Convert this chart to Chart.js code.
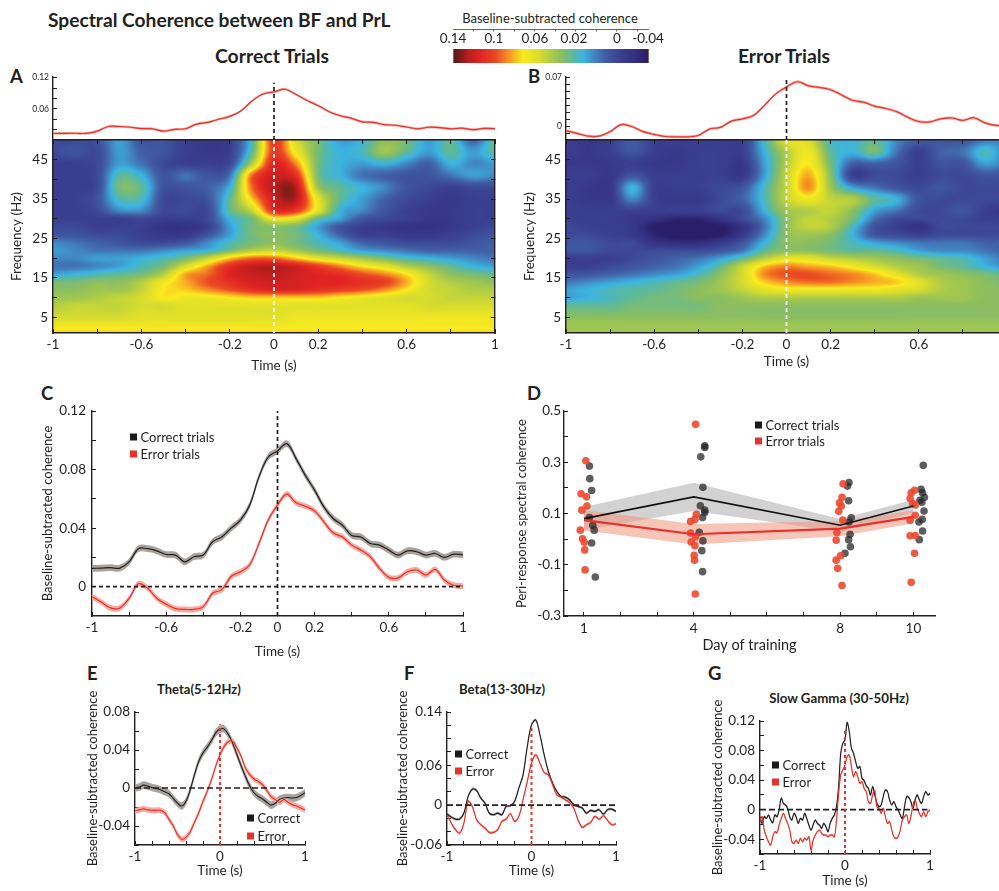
<!DOCTYPE html>
<html>
<head>
<meta charset="utf-8">
<script src="https://cdn.jsdelivr.net/npm/chart.js@4"></script>
<style>
  html, body { margin: 0; padding: 0; background: #fff; overflow: hidden; width: 999px; height: 891px; }
  body { position: relative; font-family: Lato, sans-serif; color: #231f20; }
  canvas { display: block; position: absolute; }
  .txt { position: absolute; white-space: nowrap; transform: translateY(-50%); }
  .mid { transform: translate(-50%, -50%); }
  .b { font-weight: 700; }
  .sq { position: absolute; width: 7px; height: 7px; transform: translateY(-50%); }
</style>
</head>
<body>
<script>
// time base for panels A, B, C, E, F
const timeBase = [-1,-0.95,-0.9,-0.85,-0.8,-0.75,-0.7,-0.65,-0.6,-0.55,-0.5,-0.45,-0.4,-0.35,-0.3,-0.25,-0.2,-0.15,-0.1,-0.05,0,
  0.05,0.1,0.15,0.2,0.25,0.3,0.35,0.4,0.45,0.5,0.55,0.6,0.65,0.7,0.75,0.8,0.85,0.9,0.95,1];

// panel C (and the traces over A and B)
const correctC = [.0125,.0127,.013,.0127,.017,.026,.026,.0245,.022,.0216,.017,.0205,.0216,.0307,.034,.04,.0455,.0557,.075,.0886,.0927,
  .0977,.0875,.076,.066,.0545,.0466,.042,.035,.034,.0295,.0284,.025,.0216,.0245,.0239,.0216,.0227,.02,.0222,.0218];
const errorC = [-.0068,-.0105,-.0145,-.0145,-.008,.002,-.001,-.008,-.012,-.015,-.0155,-.0155,-.0136,-.0045,-.002,.007,.0102,.015,.0295,.0455,.0557,
  .0632,.0573,.055,.0518,.0443,.0368,.034,.0284,.025,.0205,.0125,.0064,.006,.0102,.0114,.008,.0118,.0045,.001,.0005];

// panel E
const correctE = [0,.001,.003,.002,.0005,-.0005,-.0018,-.004,-.006,-.011,-.016,-.019,-.014,-.002,.014,.028,.037,.043,.05,.058,.062,
  .062,.056,.047,.035,.023,.012,.002,-.005,-.009,-.0115,-.015,-.018,-.016,-.012,-.0105,-.01,-.0105,-.01,-.008,-.005];
const errorE = [-.024,-.023,-.022,-.023,-.0235,-.0235,-.0235,-.026,-.033,-.04,-.049,-.054,-.052,-.046,-.036,-.026,-.014,-.0035,.009,.023,.035,
  .044,.049,.049,.042,.033,.021,.014,.0095,.007,.0035,-.0025,-.009,-.012,-.015,-.012,-.015,-.0175,-.019,-.021,-.023];

// panel F
const correctF = [-.013,-.018,-.021,-.021,-.012,.013,.024,.022,.0105,.003,-.012,-.0145,-.012,-.0145,-.002,-.001,.0055,.0255,.0455,.088,.1205,
  .128,.1055,.0755,.0505,.033,.0205,.013,.012,.008,.0005,-.002,-.0045,-.012,-.008,-.0095,-.007,-.0135,-.007,-.006,-.0095];
const errorF = [-.0145,-.027,-.037,-.042,-.027,.0055,-.002,-.022,-.0295,-.0345,-.041,-.041,-.037,-.0245,-.021,-.013,-.0245,-.017,.008,.0355,.063,
  .0755,.063,.049,.0455,.0305,.0155,.012,.008,.004,-.0045,-.022,-.0335,-.0295,-.026,-.017,-.021,-.016,-.023,-.0295,-.028];

// panel G is noisier so it has a finer time base
const timeG = [-1,-.975,-.95,-.925,-.9,-.875,-.85,-.825,-.8,-.775,-.75,-.725,-.7,-.675,-.65,-.625,-.6,-.575,-.55,-.525,-.5,-.475,-.45,-.425,-.4,-.375,-.35,-.325,-.3,-.275,-.25,-.225,-.2,-.175,-.15,-.125,-.1,-.075,-.05,-.025,0,
  .025,.05,.075,.1,.125,.15,.175,.2,.225,.25,.275,.3,.325,.35,.375,.4,.425,.45,.475,.5,.525,.55,.575,.6,.625,.65,.675,.7,.725,.75,.775,.8,.825,.85,.875,.9,.925,.95,.975,1];
const correctG = [-.0095,-.0185,-.0095,-.0118,-.0072,-.014,-.0176,-.0072,-.0095,-.0005,.0154,.0086,.0063,.0018,-.0095,-.014,-.005,-.0095,-.0185,-.0118,-.014,-.005,-.0118,-.0208,-.0276,-.0208,-.014,-.0185,-.0208,-.0253,-.0185,-.023,-.0298,-.0185,-.0118,-.0072,.0041,.0312,.0764,.09,.0945,
  .118,.1058,.0832,.0764,.0651,.056,.0583,.0425,.0393,.0321,.0289,.0199,.0312,.0199,.0086,.0041,.0063,.0176,.0267,.0244,.0131,.0063,.0108,.0041,-.0005,-.0072,-.0118,.0041,.0176,.0167,.0108,.0018,.0131,.0199,.0131,.0086,.0176,.0244,.0199,.0221];
const errorG = [-.014,-.0095,-.0276,-.0366,-.0434,-.0479,-.0366,-.0298,-.0312,-.0208,-.0118,-.005,-.0118,-.0185,-.0276,-.0434,-.0457,-.0411,-.0457,-.0389,-.0434,-.0389,-.0411,-.0366,-.0547,-.0411,-.0344,-.0298,-.0276,-.0321,-.0344,-.0344,-.0366,-.0344,-.0344,-.0366,-.014,.0221,.047,.0538,.0606,
  .0719,.0741,.0583,.0447,.0515,.0447,.0357,.038,.0289,.0244,.0108,.0086,.0199,.0258,.0041,.0018,-.005,.0018,-.0095,-.0185,-.0163,-.0276,-.0366,-.0389,-.0366,-.0276,-.014,-.0095,-.0072,-.0185,-.0095,.0063,.0131,.0018,-.005,-.0095,-.0027,-.0095,-.0027,-.0005];

// panel D
const days = [1,4,8,10];
const correctMean = [.08,.165,.054,.129];
const correctSem = [.045,.055,.025,.025];
const errorMean = [.074,.019,.041,.087];
const errorSem = [.04,.04,.03,.025];
const correctDotX = [1.15,1.16,1.21,1.15,1.24,1.28,1.21,1.31, 4.3,4.3,4.19,4.25,4.18,4.3,4.3,4.24,4.15,4.25,4.22,4.24, 8.24,8.2,8.23,8.3,8.24,8.27,8.23,8.28,8.13, 10.27,10.21,10.25,10.3,10.18,10.23,10.29,10.24,10.15,10.25,10.16];
const correctDotY = [.285,.236,.19,.084,.054,.035,-.015,-.148, .364,.358,.321,.202,.13,.113,.104,.084,.027,-.007,-.045,-.127, .221,.207,.15,.083,.067,.019,-.002,-.03,-.055, .288,.194,.181,.163,.152,.144,.11,.077,.067,.032,-.002];
const errorDotX = [1.05,.92,1.07,1.08,.94,.9,.96,1.01,1.02,1.03, 4.05,4.07,4.03,3.91,3.91,4.05,3.93,4.03,4.01,4.02,4.04, 8.08,8.05,7.98,8.03,7.96,8.07,7.91,7.89,8.01,7.89,7.93,8.05, 10.03,9.94,9.91,9.98,10.05,10.05,9.91,9.91,10.05,10.03,9.94];
const errorDotY = [.306,.177,.165,.129,.113,.035,.001,-.012,-.042,-.12, .448,.097,.077,.069,.024,.009,-.011,-.026,-.063,-.082,-.214, .216,.163,.142,.129,.109,.074,.026,-.004,-.065,-.082,-.114,-.181, .191,.181,.159,.139,.133,.093,.074,.013,.014,-.055,-.168];

// spectrograms, values in units of 0.01 coherence, top row is 50 Hz
const heatTimes = [-1,-.9,-.8,-.7,-.6,-.5,-.4,-.3,-.2,-.1,0,.1,.2,.3,.4,.5,.6,.7,.8,.9,1];
const heatFreqs = [50,47,44,41,38,35,32,30,28,26,24,22,20,18,16,14,12,10,8,5,3,1];
const heatCorrect = [
  [-1,-1,-.5,1.5,-.5,-.5,-1.5,-2,-1.5,2.5,10.5,6,3.5,1.5,2,4,3.5,1.5,3,0,3.5],
  [-1,-.5,-1,1.5,0,-.5,-1.5,-2,-1.5,3,10.5,7,3.5,2,2.5,4.5,3,1.5,3,1.5,3],
  [-1.5,-1.5,-1,1.5,.5,-1,-1.5,-1.5,-1,5,11.5,9,3.5,2,1.5,2,1,0,2,1,1.5],
  [-1.5,-1.5,-1,2.8,2,-.5,.5,-.5,.5,9.5,12,11,3.5,2,.5,0,-.5,-.5,.5,1.5,1],
  [-1.5,-1.5,-1,3.5,3,-.5,-.5,0,2,9.5,12.5,12.5,4.5,3,2,1,-.5,-1,-1.5,-1,-1],
  [-1.5,-1.5,-.5,2.5,2.5,-1,-1,-.5,3,8,12,12.5,6.5,3,1.5,0,-1,-1.5,-2,-1.5,-1.5],
  [-1.5,-1.5,-1,1,1,-1,-1,-1,3,5.5,11,10.5,6.5,2,1,-.5,-1.5,-2,-2,-1.5,-1.5],
  [-1.5,-1.5,-1.5,-1.5,-1,-1.5,-1.5,-1,2,3.5,7,6.5,3,1.5,-.5,-1,-1.5,-2,-2,-1.5,-1.5],
  [-1,-1,-1.5,-1.5,-1.5,-2.5,-2.5,-1.5,1.5,3.5,4,3.5,1.5,-.5,-1.5,-2,-2.5,-2.5,-2,-1.5,-1],
  [-.5,-.5,-1,-1,-1.5,-2,-2,-.5,1.5,3.5,4,3.5,2,0,-1.5,-1.5,-2,-2,-1.5,-1,-.5],
  [1,.5,0,-.5,-1,-1,-.5,1,2.5,3.5,4,3.5,2.5,1.5,0,-.5,-1,-1,-1,-.5,0],
  [1.5,1,.5,.5,.5,1,1.5,2,3.5,5,5.5,4.5,3.5,2.5,1.5,1,.5,0,0,0,0],
  [1,1,1.5,1.5,2,2.5,3.5,5.5,8,9.5,9.5,8,6.5,5.5,4.5,3.5,2.5,2,1.5,1,.5],
  [.5,.5,1,1.5,2.5,3.5,6,8.5,11,12.2,12.5,11.8,10.5,9,7.5,6.5,5,4,3,2,1.5],
  [1.5,2,2.5,3,3.5,5,8.5,9.5,11.5,12.2,12.5,12,11.5,11,10,9,7.5,5.5,4,3.5,3],
  [3.5,3.5,4,4,5,7,8.5,10,11,11.8,12,11.8,11.5,11.5,11,10.5,8.5,6,5,4.5,4],
  [4,4,4.5,4.5,5.5,7.5,8,9,10,11,11.5,11.5,11,10.5,10,9,7.5,6,5.5,5,5],
  [4.5,4.5,5,5.5,6,7.5,7,7,7.5,8,8,8,8,7.5,7,6.5,6,6,5.5,5.5,5.5],
  [5,5.5,5.5,5.5,6,6,6.5,6.5,6.5,6.5,6.5,6.5,6.5,6.5,6.5,6.5,6.5,6,6,6,6],
  [6,6,6,6,6.5,6.5,6.5,6.5,6.5,6.5,6.5,7,7,7,7,7,7,7,7,7,7],
  [7,7,7,7,7,7,7,7,7,7,7,7.2,7.2,7.2,7.2,7.2,7.2,7.2,7.2,7.2,7.2],
  [8,8,8,8,8,8,8,8,8,8,8,8,8,8,8,8,8,8,8,8,8]
];
const heatError = [
  [-1.5,-2,-1.5,0,-1.5,-1.5,-1.5,-1.5,-1.5,2.5,6.5,6,2.5,2,3,1,0,-.5,-.5,.5,1],
  [-1.5,-2,-1.5,-.5,-1.5,-2,-1.5,-1.5,-1.5,2,5,7,3,2,3.5,.5,-1.5,0,.5,2.5,.5],
  [-2,-2,-2,-1.5,-2,-2,-1.5,-1.5,-2,1.5,5,7.5,3.5,0,0,-.5,-1.5,-.5,-.5,1.5,.5],
  [-1.5,-1.5,-2,-.5,-1.5,-1.5,-1.5,-1.5,-2,1.5,5.5,8.5,4,-1.5,-1,-1,-1.5,-1,-1,-.5,-.5],
  [-1.5,-2,-2,2,-1.5,-1.5,-1.5,-1,-.5,2.5,5.5,9,4.5,1.5,.5,-.5,-1,-.5,-1,-1,-1],
  [-1.5,-2,-2,1,-1.5,-2,-2,-1,0,2.5,5.5,7,5.5,5,3,2,-.5,-1,-1,-1,-1],
  [-1.5,-1.5,-1.5,-1.5,-1.5,-1.5,-1.5,-1,-1,2,4.5,5,5.5,4,1.5,.5,-1,-1,-.5,-1.5,-2],
  [-1.5,-1.5,-1.5,-2,-2.5,-3.5,-3.5,-2.5,-1,1,4,5.5,5,3.5,.5,-1,-1,-1,-1,-1.5,-1.5],
  [-1,-1.5,-1.5,-2,-4,-4.5,-4.5,-4,-2.5,.5,4,5.5,5,2.5,-.5,-1.5,-2.5,-1,-1,-1,-1],
  [-1,-1,-1.5,-2,-3.5,-4.5,-4.5,-4,-2,1,4,4.5,4,2,-.5,-1,-1.5,-1,-1,-1,-1],
  [-.5,-.5,-1,-1,-2.5,-3,-3,-2,-.5,2,4,4,3.5,2.5,1.5,1,.5,.5,.5,0,0],
  [-.5,-.5,-1,-1,-1,-1,-1,-.5,.5,3,4,4,3.5,3,3,2.5,1.5,1,1,.5,0],
  [-1.5,-1.5,-1.5,-1,-.5,0,.5,1.5,3,5,6.5,6.5,5.5,5,4.5,4,3.5,3,2.5,1.5,.5],
  [-1.5,-1.5,-1,-.5,0,.5,1.5,3,5.5,8,9,8.5,8,7,6,5,4.5,3.5,3,2,1],
  [-.5,-.5,0,.5,1,1.5,2.5,4,6,9,10,10,9.5,9,8,6.5,5,4.5,4,3.5,3],
  [.5,1,1.5,2,2.5,3,3.5,4.5,6,8,9,9.5,9.5,9,8.5,8,6.5,5,4.5,4,3.5],
  [1.5,2,2.5,2.8,3,3.5,4,4.5,5.5,6.5,7,7,7,7,7,6.5,6,5,4.5,4,4],
  [1.5,2,2.5,3,3.5,3.5,4,4,4.5,5,5,5,5,5,5,5,4.5,4.5,4.5,4,4],
  [3,3,3,3.5,3.5,3.5,3.5,4,4,4,4,4,4,4,4,4,4,4,4,4,4],
  [4,4,4,4,4,4,4,4,4,4,4,4,4,4,4,4,4,4,4,4,4],
  [4.5,4.5,4.5,4.5,4.5,4.5,4.5,4.5,4.5,4.5,4.5,4.5,4.5,4.5,4.5,4.5,4.5,4.5,4.5,4.5,4.5],
  [4.5,4.5,4.5,4.5,4.5,4.5,4.5,4.5,4.5,4.5,4.5,4.5,4.5,4.5,4.5,4.5,4.5,4.5,4.5,4.5,4.5]
];

// colour map, value (0.01 units) to rgb
const mapValues = [-4,-3,-1.5,0,1,2,3,4,5,6,7.5,9,10,11.5,12.5,13.5,14];
const mapColors = [[42,30,105],[50,45,125],[58,62,145],[65,95,165],[65,135,195],[60,180,225],[95,185,150],[140,190,95],[175,205,70],[215,220,45],[250,235,30],[245,140,35],[235,75,35],[225,35,35],[190,30,30],[110,28,24],[80,25,20]];

// tick positions and labels
const timeTicks = [-1,-.8,-.6,-.4,-.2,0,.2,.4,.6,.8,1];
const timeLabels = ['-1','','-0.6','','-0.2','0','0.2','','0.6','','1'];
const timeLabelsShort = ['-1','','','','','0','','','','','1'];
const freqTicks = [5,10,15,20,25,30,35,40,45];
const freqLabels = ['5','','15','','25','','35','','45'];
const traceATicks = [.12,.1,.08,.06,.04,.02];
const traceALabels = ['0.12','','','0.06','',''];
const traceBTicks = [.07,.06,.05,.04,.03,.02,.01,0,-.01];
const traceBLabels = ['0.07','','','','','','','0',''];
const cTicks = [.12,.1,.08,.06,.04,.02,0];
const cLabels = ['0.12','','0.08','','0.04','','0'];
const dayTicks = [1,2,3,4,5,6,7,8,9,10];
const dayLabels = ['1','','','4','','','','8','','10'];
const dTicks = [.5,.4,.3,.2,.1,0,-.1,-.2,-.3];
const dLabels = ['0.5','','0.3','','0.1','','-0.1','','-0.3'];
const eTicks = [.08,.06,.04,.02,0,-.02,-.04,-.06];
const eLabels = ['0.08','','0.04','','0','','-0.04',''];
const fTicks = [.14,.12,.1,.08,.06,.04,.02,0,-.02,-.04,-.06];
const fLabels = ['0.14','','','','0.06','','','0','','','-0.06'];
const gTicks = [.12,.1,.08,.06,.04,.02,0,-.02,-.04,-.06];
const gLabels = ['0.12','','0.08','','0.04','','0','','-0.04',''];
const barTicks = [.105,.21,.315,.42,.525,.63,.735,.84,.945];
const barLabelPos = [0,.21,.42,.62,.84,1];
const barLabels = ['0.14','0.1','0.06','0.02','0','-0.04'];

const ink = '#231f20';
const red = '#e8312a';
const redBand = '#f6aaa0';
const greyBand = '#a8a29e';
Chart.defaults.font.family = 'Lato, sans-serif';
Chart.defaults.color = ink;

const xy = (xs, ys, d = 0) => xs.map((x, i) => ({ x, y: ys[i] + d }));

// cubic through neighbours, works on uneven spacing
function cubic(xs, ys, x) {
  const n = xs.length;
  if (x <= xs[0]) return ys[0];
  if (x >= xs[n - 1]) return ys[n - 1];
  let i = 0;
  while (xs[i + 1] < x) i++;
  const h = xs[i + 1] - xs[i], s = (x - xs[i]) / h;
  const m0 = i > 0 ? (ys[i + 1] - ys[i - 1]) / (xs[i + 1] - xs[i - 1]) : (ys[i + 1] - ys[i]) / h;
  const m1 = i < n - 2 ? (ys[i + 2] - ys[i]) / (xs[i + 2] - xs[i]) : (ys[i + 1] - ys[i]) / h;
  return (2*s*s*s - 3*s*s + 1) * ys[i] + (s*s*s - 2*s*s + s) * h * m0 + (-2*s*s*s + 3*s*s) * ys[i + 1] + (s*s*s - s*s) * h * m1;
}

function colorOf(v) {
  const n = mapValues.length;
  if (v <= mapValues[0]) return mapColors[0];
  if (v >= mapValues[n - 1]) return mapColors[n - 1];
  let i = 0;
  while (mapValues[i + 1] < v) i++;
  const s = (v - mapValues[i]) / (mapValues[i + 1] - mapValues[i]);
  return mapColors[i].map((c, k) => c + (mapColors[i + 1][k] - c) * s);
}

// paints the spectrogram under the axes, every pixel looked up through the scales
function heatPlugin(times, freqs, grid) {
  const freqsUp = [...freqs].reverse();
  const rows = [...grid].reverse();
  return {
    id: 'heat',
    beforeDraw(chart) {
      const { left, top, right, bottom } = chart.chartArea;
      const w = Math.round(right - left), h = Math.round(bottom - top);
      const img = chart.ctx.createImageData(w, h);
      for (let i = 0; i < w; i++) {
        const t = chart.scales.x.getValueForPixel(left + i + .5);
        const col = rows.map(r => cubic(times, r, t));
        for (let j = 0; j < h; j++) {
          const f = chart.scales.y.getValueForPixel(top + j + .5);
          const c = colorOf(cubic(freqsUp, col, f));
          const p = (j * w + i) * 4;
          img.data[p] = c[0]; img.data[p + 1] = c[1]; img.data[p + 2] = c[2]; img.data[p + 3] = 255;
        }
      }
      chart.ctx.putImageData(img, Math.round(left), Math.round(top));
    }
  };
}

const rampPlugin = {
  id: 'ramp',
  beforeDraw(chart) {
    const { left, top, right, bottom } = chart.chartArea;
    for (let px = left; px < right; px++) {
      const c = colorOf(14 - 18 * chart.scales.x.getValueForPixel(px + .5));
      chart.ctx.fillStyle = `rgb(${c[0]},${c[1]},${c[2]})`;
      chart.ctx.fillRect(px, top, 1, bottom - top);
    }
  }
};

// scale with inward ticks and a fixed box size so the plot area lands where we want
function axis(position, size, min, max, ticks, labels, title, o = {}) {
  const horizontal = position === 'top' || position === 'bottom';
  const tl = o.tick || 4;
  return {
    type: 'linear', position, min, max,
    display: o.hidden ? false : true,
    afterBuildTicks: a => { a.ticks = ticks.map(value => ({ value })); },
    afterFit: s => {
      if (horizontal) s.height = size; else s.width = size;
      s.paddingLeft = s.paddingRight = s.paddingTop = s.paddingBottom = 0;
    },
    border: { color: o.border || ink, width: o.borderWidth || 1.4 },
    grid: { drawOnChartArea: false, drawTicks: true, tickLength: -tl, tickColor: o.border || ink, tickWidth: 1 },
    ticks: {
      display: !!labels, autoSkip: false, maxRotation: 0, minRotation: 0,
      padding: (o.gap === undefined ? 4 : o.gap) + tl, color: ink,
      font: { size: o.size || 13.5 }, callback: (v, i) => labels ? labels[i] : ''
    },
    title: { display: !!title, text: title, padding: 0, color: ink, font: { size: o.titleSize || 13 } }
  };
}

function place(plot, m, datasets, scales, plugins = []) {
  const c = document.createElement('canvas');
  const w = plot.r - plot.l + m.l + m.r, h = plot.b - plot.t + m.t + m.b;
  c.width = w; c.height = h;
  c.style.cssText = `left:${plot.l - m.l}px;top:${plot.t - m.t}px;width:${w}px;height:${h}px`;
  document.body.appendChild(c);
  datasets.forEach((d, i) => { d.order = -i; });
  return new Chart(c, {
    type: 'line',
    data: { datasets },
    plugins,
    options: {
      responsive: false, animation: false, events: [],
      layout: { padding: { top: m.pad === undefined ? m.t : m.pad, right: m.r, left: 0, bottom: 0 } },
      plugins: { legend: { display: false }, tooltip: { enabled: false } },
      scales
    }
  });
}

const line = (data, color, width = 1.3, extra = {}) => ({
  data, borderColor: color, borderWidth: width, pointRadius: 0, fill: false, tension: .35, ...extra
});
// sem band is two invisible edges with a fill between them
const band = (xs, ys, sem, color) => [
  line(xy(xs, ys, sem), 'rgba(0,0,0,0)', 0),
  line(xy(xs, ys, -sem), 'rgba(0,0,0,0)', 0, { fill: '-1', backgroundColor: color })
];
const dashed = (a, b, color, width = 1.7, dash = [4, 3]) => line([a, b], color, width, { borderDash: dash, tension: 0 });

function text(str, x, y, size, cls = '') {
  const d = document.createElement('div');
  d.className = 'txt ' + cls;
  d.textContent = str;
  d.style.left = x + 'px'; d.style.top = y + 'px'; d.style.fontSize = size + 'px';
  document.body.appendChild(d);
}
function legend(str, x, y, color, size = 13) {
  const s = document.createElement('div');
  s.className = 'sq';
  s.style.left = x + 'px'; s.style.top = y + 'px'; s.style.background = color;
  document.body.appendChild(s);
  text(str, x + 10.5, y, size);
}

// headings
text('Spectral Coherence between BF and PrL', 48, 19, 19.2, 'b');
text('Correct Trials', 272, 55, 19.4, 'b mid');
text('Error Trials', 784, 55, 19.4, 'b mid');
text('Baseline-subtracted coherence', 550, 18, 13, 'mid');
[['A', 10, 76], ['B', 528, 76], ['C', 41, 393], ['D', 527, 393], ['E', 87, 673], ['F', 404, 673], ['G', 708, 673]]
  .forEach(([s, x, y]) => text(s, x, y, 18.5, 'b'));

// colour bar
place({ l: 453, r: 648, t: 49, b: 63 }, { l: 20, r: 20, t: 20, b: 0, pad: 0 }, [], {
  x: axis('top', 20, 0, 1, barLabelPos, barLabels, '', { tick: 0.01, gap: 2, border: 'rgba(0,0,0,0)', size: 13.5 }),
  x2: axis('top', 0, 0, 1, barTicks, null, '', { tick: 2.5, border: '#6b6663', borderWidth: 1 }),
  x3: axis('bottom', 0, 0, 1, [], null, '', { border: '#6b6663', borderWidth: 1 }),
  y: axis('left', 20, 0, 1, [], null, '', { border: '#6b6663', borderWidth: 1 }),
  y2: axis('right', 0, 0, 1, [], null, '', { border: '#6b6663', borderWidth: 1 })
}, [rampPlugin]);

// trace over A
place({ l: 53, r: 495, t: 77, b: 140 }, { l: 30, r: 6, t: 8, b: 0 }, [
  ...band(timeBase, correctC, .0025, redBand),
  line(xy(timeBase, correctC), red, 1.2),
  dashed({ x: 0, y: 0 }, { x: 0, y: .11 }, ink)
], {
  x: axis('bottom', 0, -1, 1, [], null, '', { hidden: true }),
  y: axis('left', 30, 0, .1213, traceATicks, traceALabels, '', { size: 8.5, gap: 4 })
});

// trace over B
place({ l: 566, r: 1007, t: 77, b: 140 }, { l: 30, r: 6, t: 8, b: 0 }, [
  ...band(timeBase, errorC, .002, redBand),
  line(xy(timeBase, errorC), red, 1.2),
  dashed({ x: 0, y: -.02 }, { x: 0, y: .07 }, ink)
], {
  x: axis('bottom', 0, -1, 1, [], null, '', { hidden: true }),
  y: axis('left', 30, -.02, .07, traceBTicks, traceBLabels, '', { size: 8.5, gap: 4 })
});

// spectrogram A
place({ l: 53, r: 495, t: 140, b: 333 }, { l: 44, r: 8, t: 8, b: 41 }, [
  dashed({ x: 0, y: 1 }, { x: 0, y: 50 }, '#ffffff')
], {
  x: axis('bottom', 41, -1, 1, timeTicks, timeLabels, 'Time (s)', { gap: 4, titleSize: 13.5 }),
  y: axis('left', 44, 1, 50, freqTicks, freqLabels, 'Frequency (Hz)', { gap: 5, titleSize: 13.5 }),
  x2: axis('top', 0, -1, 1, timeTicks, null, ''),
  y2: axis('right', 0, 1, 50, freqTicks, null, '')
}, [heatPlugin(heatTimes, heatFreqs, heatCorrect)]);

// spectrogram B, its right edge runs past the page like the figure does
place({ l: 566, r: 1007, t: 140, b: 333 }, { l: 44, r: 8, t: 8, b: 37 }, [
  dashed({ x: 0, y: 1 }, { x: 0, y: 50 }, '#ffffff')
], {
  x: axis('bottom', 37, -1, 1, timeTicks, timeLabels, 'Time (s)', { gap: 4, titleSize: 13.5 }),
  y: axis('left', 44, 1, 50, freqTicks, freqLabels, 'Frequency (Hz)', { gap: 5, titleSize: 13.5 }),
  x2: axis('top', 0, -1, 1, timeTicks, null, ''),
  y2: axis('right', 0, 1, 50, freqTicks, null, '')
}, [heatPlugin(heatTimes, heatFreqs, heatError)]);

// panel C
place({ l: 92, r: 463, t: 411, b: 616 }, { l: 52, r: 8, t: 8, b: 44 }, [
  ...band(timeBase, correctC, .0023, greyBand),
  ...band(timeBase, errorC, .002, redBand),
  line(xy(timeBase, correctC), ink, 1.2),
  line(xy(timeBase, errorC), red, 1.2),
  dashed({ x: -1, y: 0 }, { x: 1, y: 0 }, ink),
  dashed({ x: 0, y: -.02 }, { x: 0, y: .12 }, ink)
], {
  x: axis('bottom', 44, -1, 1, timeTicks, timeLabels, 'Time (s)', { gap: 4, titleSize: 13.5 }),
  y: axis('left', 52, -.02, .12, cTicks, cLabels, 'Baseline-subtracted coherence', { gap: 6 })
});
legend('Correct trials', 130, 437, '#1c1a1a');
legend('Error trials', 130, 454, red);

// panel D
place({ l: 564, r: 935, t: 411, b: 616 }, { l: 50, r: 8, t: 8, b: 38 }, [
  line(xy(days, correctMean.map((v, i) => v + correctSem[i])), 'rgba(0,0,0,0)', 0, { tension: 0 }),
  line(xy(days, correctMean.map((v, i) => v - correctSem[i])), 'rgba(0,0,0,0)', 0, { tension: 0, fill: '-1', backgroundColor: '#d2d2d2' }),
  line(xy(days, errorMean.map((v, i) => v + errorSem[i])), 'rgba(0,0,0,0)', 0, { tension: 0 }),
  line(xy(days, errorMean.map((v, i) => v - errorSem[i])), 'rgba(0,0,0,0)', 0, { tension: 0, fill: '-1', backgroundColor: 'rgba(240,150,125,.55)' }),
  line(xy(correctDotX, correctDotY), 'rgba(0,0,0,0)', 0, { showLine: false, pointRadius: 3.8, pointBackgroundColor: 'rgba(40,40,40,.75)', pointBorderWidth: 0 }),
  line(xy(errorDotX, errorDotY), 'rgba(0,0,0,0)', 0, { showLine: false, pointRadius: 3.8, pointBackgroundColor: 'rgba(236,72,45,.9)', pointBorderWidth: 0 }),
  line(xy(days, correctMean), '#111', 1.6, { tension: 0 }),
  line(xy(days, errorMean), red, 2.2, { tension: 0 })
], {
  x: axis('bottom', 38, .4545, 10.59, dayTicks, dayLabels, 'Day of training', { gap: 5, titleSize: 14.5 }),
  y: axis('left', 50, -.3, .5, dTicks, dLabels, 'Peri-response spectral coherence', { gap: 3 })
});
legend('Correct trials', 755, 425, '#1c1a1a');
legend('Error trials', 755, 441, red);

// panel E
text('Theta(5-12Hz)', 199, 689, 13, 'b mid');
place({ l: 135, r: 305, t: 712, b: 845 }, { l: 50, r: 8, t: 30, b: 34 }, [
  ...band(timeBase, correctE, .004, greyBand),
  ...band(timeBase, errorE, .003, redBand),
  line(xy(timeBase, correctE), ink, 1.1),
  line(xy(timeBase, errorE), red, 1.1),
  dashed({ x: -1, y: 0 }, { x: 1, y: 0 }, ink, 1.6, [6, 3]),
  dashed({ x: 0, y: -.06 }, { x: 0, y: .067 }, red, 2, [3, 3])
], {
  x: axis('bottom', 34, -1, 1, timeTicks, timeLabelsShort, 'Time (s)', { gap: 4, titleSize: 13.5 }),
  y: axis('left', 50, -.06, .08, eTicks, eLabels, 'Baseline-subtracted coherence', { gap: 5 })
});
legend('Correct', 247, 818, '#1c1a1a');
legend('Error', 247, 836, red);

// panel F
text('Beta(13-30Hz)', 502, 689, 13.2, 'b mid');
place({ l: 447, r: 616, t: 712, b: 845 }, { l: 52, r: 8, t: 30, b: 34 }, [
  ...band(timeBase, correctF, .002, greyBand),
  ...band(timeBase, errorF, .002, redBand),
  line(xy(timeBase, correctF), ink, 1.2),
  line(xy(timeBase, errorF), red, 1.2),
  dashed({ x: -1, y: 0 }, { x: 1, y: 0 }, ink, 1.6, [6, 3]),
  dashed({ x: 0, y: -.06 }, { x: 0, y: .12 }, red, 2, [3, 3])
], {
  x: axis('bottom', 34, -1, 1, timeTicks, timeLabelsShort, 'Time (s)', { gap: 4, titleSize: 13.5 }),
  y: axis('left', 52, -.06, .14, fTicks, fLabels, 'Baseline-subtracted coherence', { gap: 5 })
});
legend('Correct', 455, 754, '#1c1a1a');
legend('Error', 455, 771, red);

// panel G
text('Slow Gamma (30-50Hz)', 839, 698, 13.3, 'b mid');
place({ l: 760, r: 930, t: 721, b: 854 }, { l: 50, r: 8, t: 30, b: 35 }, [
  ...band(timeG, correctG, .0015, greyBand),
  ...band(timeG, errorG, .0015, redBand),
  line(xy(timeG, correctG), ink, 1.2),
  line(xy(timeG, errorG), red, 1.2),
  dashed({ x: -1, y: 0 }, { x: .97, y: 0 }, ink, 1.6, [6, 3]),
  dashed({ x: 0, y: -.06 }, { x: 0, y: .108 }, red, 2, [3, 3])
], {
  x: axis('bottom', 35, -1, 1, timeTicks, timeLabelsShort, 'Time (s)', { gap: 4, titleSize: 13.5 }),
  y: axis('left', 50, -.06, .12, gTicks, gLabels, 'Baseline-subtracted coherence', { gap: 5 })
});
legend('Correct', 772, 765, '#1c1a1a');
legend('Error', 772, 782, red);
</script>
</body>
</html>
